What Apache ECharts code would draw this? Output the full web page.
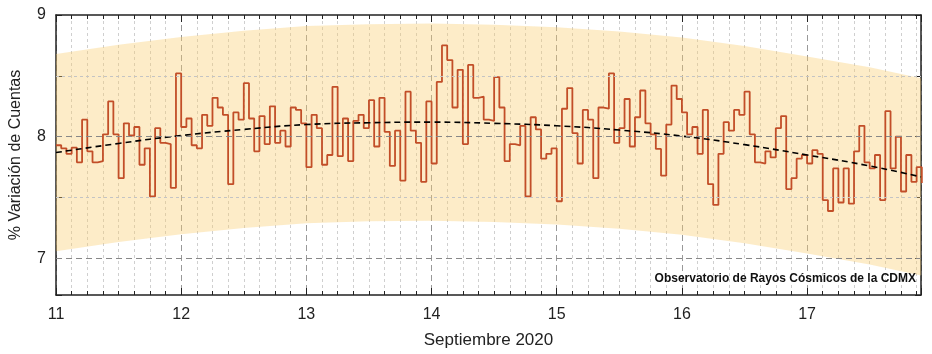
<!DOCTYPE html>
<html>
<head>
<meta charset="utf-8">
<script src="https://cdn.jsdelivr.net/npm/echarts@6/dist/echarts.min.js"></script>
<style>html,body{margin:0;padding:0;background:#fff}#c{width:932px;height:354px}</style>
</head>
<body>
<div id="c"></div>
<script>
// Hourly % variation of counts, starting 11 Sept 2020 00:00
const startDay = 11;
const hourly = [
  // day 11
  7.93, 7.905, 7.86, 7.91, 7.79, 8.14, 7.88, 7.79, 7.80, 8.02, 8.29, 8.02, 7.66, 8.11, 8.01, 8.08, 7.77, 7.905, 7.51, 8.07, 7.95, 7.94, 7.58, 8.52,
  // day 12
  8.08, 8.15, 7.93, 7.905, 8.18, 8.09, 8.32, 8.24, 8.18, 7.61, 8.20, 8.14, 8.44, 8.15, 7.88, 8.17, 7.94, 8.25, 7.95, 8.05, 7.92, 8.24, 8.22, 8.11,
  // day 13
  7.75, 8.18, 8.07, 7.77, 7.85, 8.41, 7.84, 8.15, 7.80, 8.13, 8.18, 8.07, 8.30, 7.92, 8.32, 8.04, 7.76, 8.05, 7.64, 8.37, 8.05, 7.95, 7.63, 8.29,
  // day 14
  7.78, 8.45, 8.75, 8.63, 8.24, 8.55, 7.94, 8.59, 8.32, 8.33, 8.14, 8.13, 8.49, 8.24, 7.80, 7.94, 7.93, 8.09, 7.51, 8.16, 8.06, 7.82, 7.86, 7.905,
  // day 15
  7.47, 8.23, 8.40, 8.03, 7.78, 8.22, 8.14, 7.66, 8.24, 8.23, 8.52, 7.95, 8.07, 8.31, 7.92, 8.16, 8.38, 8.11, 8.02, 7.90, 7.68, 8.10, 8.42, 8.31,
  // day 16
  8.20, 8.02, 8.08, 7.86, 8.22, 7.61, 7.44, 7.86, 8.12, 8.05, 8.22, 8.18, 8.37, 8.02, 7.79, 7.78, 7.88, 7.83, 8.07, 8.17, 7.57, 7.66, 7.82, 7.85,
  // day 17
  7.78, 7.89, 7.86, 7.48, 7.39, 7.74, 7.46, 7.74, 7.45, 7.88, 8.09, 7.79, 7.74, 7.85, 7.48, 8.21, 7.74, 8.00, 7.55, 7.85, 7.63, 7.75, 7.62
];

// Fitted trend (dashed) and its band, read at half-day points
const fitDays  = [11, 11.5, 12, 12.5, 13, 13.5, 14, 14.5, 15, 15.5, 16, 16.5, 17, 17.5, 17.91];
const fitVals  = [7.87, 7.945, 8.01, 8.06, 8.10, 8.115, 8.12, 8.11, 8.09, 8.055, 8.005, 7.935, 7.85, 7.76, 7.67];
const bandLow  = [7.06, 7.135, 7.20, 7.25, 7.29, 7.305, 7.31, 7.30, 7.28, 7.245, 7.195, 7.125, 7.04, 6.95, 6.86];
const bandHigh = [8.68, 8.755, 8.82, 8.87, 8.91, 8.925, 8.93, 8.92, 8.90, 8.865, 8.815, 8.745, 8.66, 8.57, 8.48];

const xTickLabels = ['11', '12', '13', '14', '15', '16', '17'];
const yTickLabels = ['7', '8', '9'];
const yGridMajor = [7, 8];
const yGridMinor = [7.5, 8.5];

const FONT = 'Liberation Sans, Arial, sans-serif';

const stepData = hourly.map((v, i) => [startDay + i / 24, v]);
const fitData = fitDays.map((d, i) => [d, fitVals[i]]);
const bandData = fitDays.map((d, i) => [d, bandLow[i], bandHigh[i]]);

const chart = echarts.init(document.getElementById('c'), null, {renderer: 'canvas'});

const commonX = {type: 'value', min: 11, max: 17.91, interval: 1};

chart.setOption({
  animation: false,
  backgroundColor: '#fff',
  grid: {left: 51, right: 11, top: 15, bottom: 56, containLabel: false},
  xAxis: [
    Object.assign({}, commonX, {
      position: 'bottom',
      name: 'Septiembre 2020',
      nameLocation: 'middle',
      nameGap: 37,
      nameTextStyle: {fontFamily: FONT, fontSize: 17, color: '#222'},
      axisLine: {show: true, onZero: false, lineStyle: {color: '#222', width: 1.5}},
      axisTick: {show: true, inside: true, length: 7, lineStyle: {color: '#222', width: 1}},
      minorTick: {show: true, splitNumber: 8, length: 4, lineStyle: {color: '#222', width: 1}},
      axisLabel: {
        margin: 12, fontFamily: FONT, fontSize: 16, color: '#222',
        formatter: v => (Math.abs(v - Math.round(v)) < 1e-6 && xTickLabels.indexOf(String(Math.round(v))) >= 0) ? String(Math.round(v)) : ''
      },
      splitLine: {show: true, lineStyle: {color: '#999', type: [6, 4], width: 1}},
      minorSplitLine: {show: true, lineStyle: {color: '#cfcfcf', type: [3, 3], width: 1}}
    }),
    Object.assign({}, commonX, {
      position: 'top',
      axisLine: {show: true, onZero: false, lineStyle: {color: '#222', width: 1.5}},
      axisTick: {show: true, inside: true, length: 7, lineStyle: {color: '#222', width: 1}},
      minorTick: {show: true, splitNumber: 8, length: 4, lineStyle: {color: '#222', width: 1}},
      axisLabel: {show: false},
      splitLine: {show: false}
    })
  ],
  yAxis: [
    {
      type: 'value', min: 6.7, max: 9, splitNumber: 5, position: 'left',
      name: '% Variación de Cuentas',
      nameLocation: 'middle', nameGap: 32, nameRotate: 90,
      nameTextStyle: {fontFamily: FONT, fontSize: 16, color: '#222'},
      axisLine: {show: true, onZero: false, lineStyle: {color: '#222', width: 1.5}},
      axisTick: {show: true, inside: true, length: 6, lineStyle: {color: '#222', width: 1}},
      axisLabel: {
        margin: 10, fontFamily: FONT, fontSize: 16, color: '#222',
        formatter: v => (Math.abs(v - Math.round(v)) < 1e-6 && yTickLabels.indexOf(String(Math.round(v))) >= 0) ? String(Math.round(v)) : ''
      },
      splitLine: {show: false}
    },
    {
      type: 'value', min: 6.7, max: 9, splitNumber: 5, position: 'right',
      axisLine: {show: true, onZero: false, lineStyle: {color: '#222', width: 1.5}},
      axisTick: {show: true, inside: true, length: 6, lineStyle: {color: '#222', width: 1}},
      axisLabel: {show: false},
      splitLine: {show: false}
    }
  ],
  series: [
    {
      name: 'band', type: 'custom', data: bandData, silent: true, z: 1,
      clip: true,
      encode: {x: 0, y: [1, 2]},
      renderItem: function (params, api) {
        if (params.dataIndex !== 0) return null;
        const upper = bandData.map(p => api.coord([p[0], p[2]]));
        const lower = bandData.map(p => api.coord([p[0], p[1]])).reverse();
        const cs = params.coordSys;
        return {
          type: 'polygon',
          shape: {points: upper.concat(lower)},
          style: {fill: 'rgba(251, 205, 110, 0.38)', stroke: null},
          clipPath: {type: 'rect', shape: {x: cs.x, y: cs.y, width: cs.width, height: cs.height}}
        };
      }
    },
    {
      name: 'grid', type: 'line', data: [], symbol: 'none', silent: true, z: 2,
      markLine: {
        silent: true, symbol: 'none', label: {show: false}, animation: false,
        data: yGridMinor.map(v => ({yAxis: v, lineStyle: {color: '#c4c4c4', type: [3, 3], width: 1}}))
          .concat(yGridMajor.map(v => ({yAxis: v, lineStyle: {color: '#888', type: [6, 4], width: 1}})))
      }
    },
    {
      name: 'counts', type: 'line', step: 'end', data: stepData,
      symbol: 'none', lineStyle: {color: '#C24E28', width: 1.8}, z: 3
    },
    {
      name: 'fit', type: 'line', smooth: true, data: fitData,
      symbol: 'none', lineStyle: {color: '#000', width: 1.6, type: [6, 4]}, z: 4
    }
  ],
  graphic: [
    {
      type: 'text', right: 16, top: 273, z: 10,
      style: {text: 'Observatorio de Rayos Cósmicos de la CDMX', font: 'bold 12px ' + FONT, fill: '#111'}
    }
  ]
});
</script>
</body>
</html>
